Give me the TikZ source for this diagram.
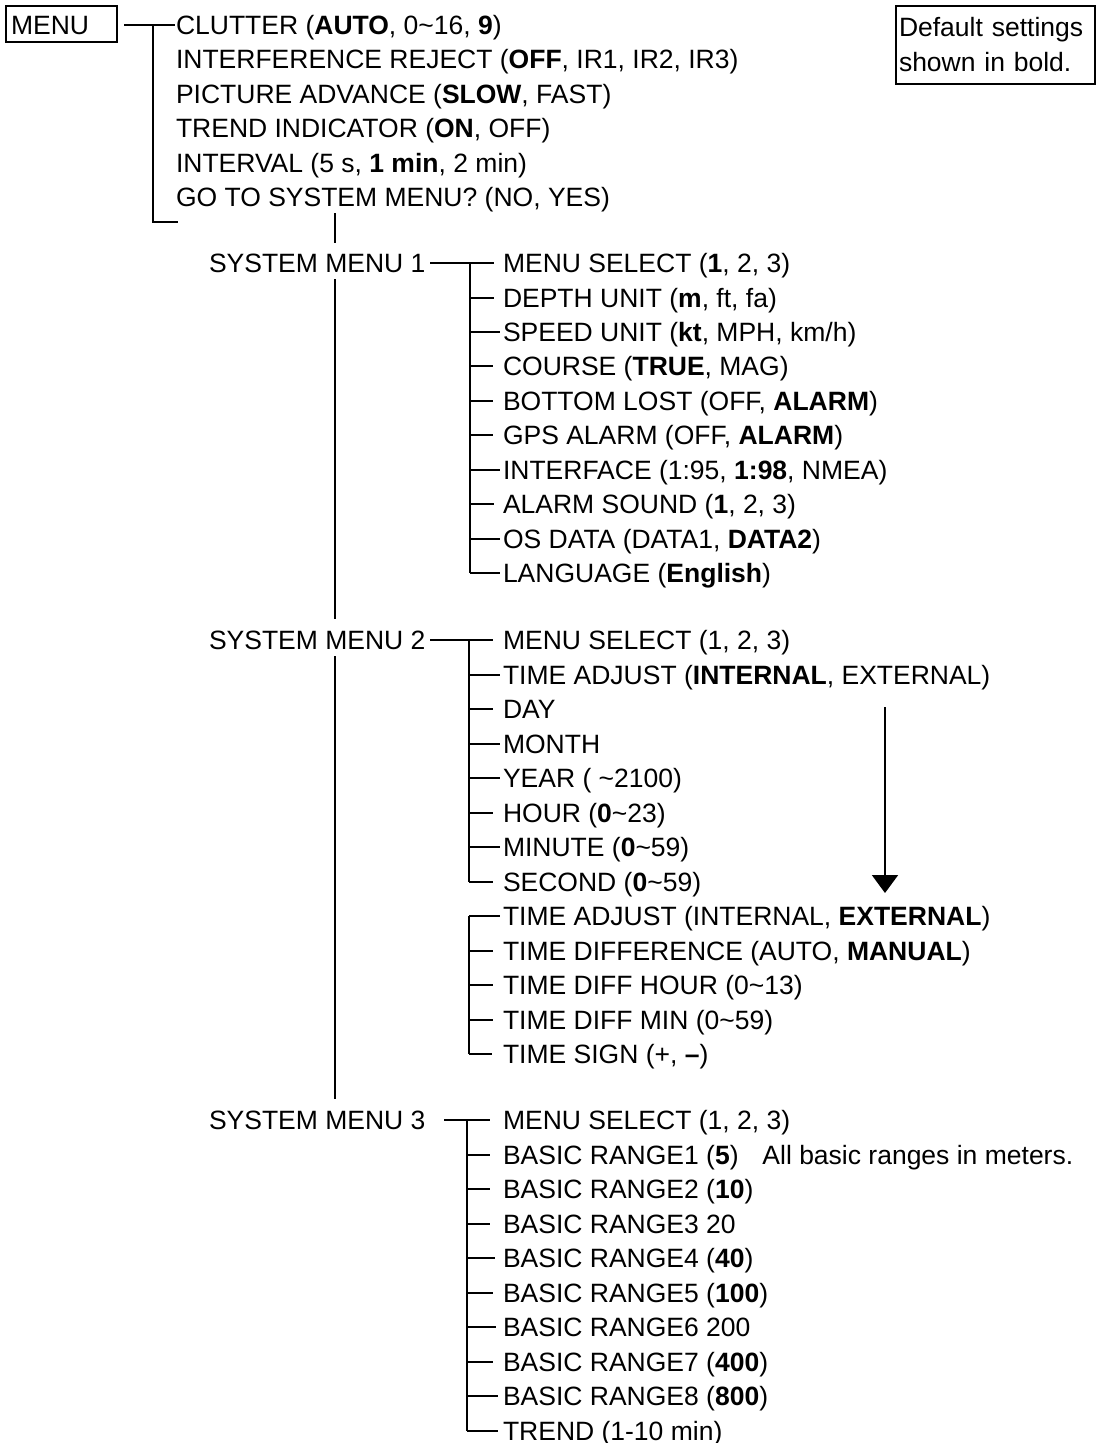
\documentclass[tikz,border=0pt]{standalone}
\usepackage{fontspec}
\setmainfont{Liberation Sans}
\usetikzlibrary{arrows.meta}
\newcommand{\fs}{\fontsize{26.5}{35}\selectfont}
\newcommand{\tl}{\textasciitilde}
% item node + tick from bar coordinate: name, bar coord, y, gap, text
\newcommand{\branchitem}[5]{%
  \node[itm] (#1) at (502,#3) {#5};
  \draw (#2 |- #1.west) -- ([xshift=-#4pt]#1.west);}
\begin{document}
\begin{tikzpicture}[x=1pt,y=-1pt,line width=2pt,
  itm/.style={anchor=west,inner sep=0pt,text height=19pt,text depth=0pt,font=\fs},
  boxnode/.style={draw,anchor=north west,font=\fs,align=left}]
\useasboundingbox (0,0) rectangle (1096,1443);

% ---------- MENU ----------
\node[boxnode,inner xsep=5pt,inner ysep=7.5pt,text width=101pt,text height=21pt,text depth=0pt] (menu) at (5,5) {MENU};

\node[itm] (m1) at (175,25)    {CLUTTER (\textbf{AUTO}, 0\tl16, \textbf{9})};
\node[itm] (m2) at (175,59.4)  {INTERFERENCE REJECT (\textbf{OFF}, IR1, IR2, IR3)};
\node[itm] (m3) at (175,93.8)  {PICTURE ADVANCE (\textbf{SLOW}, FAST)};
\node[itm] (m4) at (175,128.2) {TREND INDICATOR (\textbf{ON}, OFF)};
\node[itm] (m5) at (175,162.6) {INTERVAL (5 s, \textbf{1 min}, 2 min)};
\node[itm] (m6) at (175,197)   {GO TO SYSTEM MENU? (NO, YES)};

\coordinate (mbar) at (153,0);
\coordinate (mbot) at (153,222);
\draw ([xshift=6pt]menu.east |- m1.west) -- (m1.west);
\draw (mbar |- m1.west) -- (mbot) -- ([xshift=3pt]m6.west |- mbot);

% ---------- default note ----------
\node[boxnode,inner xsep=3pt,inner ysep=0pt,text width=193pt,minimum height=78pt] (note) at (895,5) {Default settings\\shown in bold.};

% ---------- system menu titles ----------
\node[itm] (s1) at (208,263)  {SYSTEM MENU 1};
\node[itm] (s2) at (208,640)  {SYSTEM MENU 2};
\node[itm] (s3) at (208,1120) {SYSTEM MENU 3};

\coordinate (main) at (335,0);
\draw (main |- 0,213) -- (main |- 0,243);
\draw (main |- 0,279) -- (main |- 0,619);
\draw (main |- 0,656) -- (main |- 0,1099);

% ---------- SYSTEM MENU 1 ----------
\coordinate (b1) at (470,0);
\branchitem{a1}{b1}{263}{8}{MENU SELECT (\textbf{1}, 2, 3)}
\branchitem{a2}{b1}{297.5}{8}{DEPTH UNIT (\textbf{m}, ft, fa)}
\branchitem{a3}{b1}{331.9}{2}{SPEED UNIT (\textbf{kt}, MPH, km/h)}
\branchitem{a4}{b1}{366.4}{9}{COURSE (\textbf{TRUE}, MAG)}
\branchitem{a5}{b1}{400.8}{9}{BOTTOM LOST (OFF, \textbf{ALARM})}
\branchitem{a6}{b1}{435.3}{9}{GPS ALARM (OFF, \textbf{ALARM})}
\branchitem{a7}{b1}{469.7}{2}{INTERFACE (1:95, \textbf{1:98}, NMEA)}
\branchitem{a8}{b1}{504.2}{8}{ALARM SOUND (\textbf{1}, 2, 3)}
\branchitem{a9}{b1}{538.6}{2}{OS DATA (DATA1, \textbf{DATA2})}
\branchitem{a10}{b1}{573}{2}{LANGUAGE (\textbf{English})}
\draw ([xshift=4pt]s1.east) -- (b1 |- a1.west);
\draw (b1 |- a1.west) -- (b1 |- a10.west);

% ---------- SYSTEM MENU 2 ----------
\coordinate (b2) at (469,0);
\branchitem{c1}{b2}{640}{9}{MENU SELECT (1, 2, 3)}
\branchitem{c2}{b2}{674.5}{2}{TIME ADJUST (\textbf{INTERNAL}, EXTERNAL)}
\branchitem{c3}{b2}{709}{9}{DAY}
\branchitem{c4}{b2}{743.5}{2}{MONTH}
\branchitem{c5}{b2}{778}{2}{YEAR ( \tl2100)}
\branchitem{c6}{b2}{812.5}{9}{HOUR (\textbf{0}\tl23)}
\branchitem{c7}{b2}{847}{2}{MINUTE (\textbf{0}\tl59)}
\branchitem{c8}{b2}{881.5}{9}{SECOND (\textbf{0}\tl59)}
\branchitem{c9}{b2}{916}{2}{TIME ADJUST (INTERNAL, \textbf{EXTERNAL})}
\branchitem{c10}{b2}{950.5}{9}{TIME DIFFERENCE (AUTO, \textbf{MANUAL})}
\branchitem{c11}{b2}{985}{9}{TIME DIFF HOUR (0\tl13)}
\branchitem{c12}{b2}{1019.5}{9}{TIME DIFF MIN (0\tl59)}
\branchitem{c13}{b2}{1054}{10}{TIME SIGN (+, \textbf{--})}
\draw ([xshift=4pt]s2.east) -- (b2 |- c1.west);
\draw (b2 |- c1.west) -- (b2 |- c8.west);
\draw (b2 |- c9.west) -- (b2 |- c13.west);

\coordinate (arrTop) at (885,707);
\coordinate (arrTip) at (885,893);
\draw[-{Triangle[width=26pt,length=18pt]}] (arrTop) -- (arrTip);

% ---------- SYSTEM MENU 3 ----------
\coordinate (b3) at (467,0);
\branchitem{d1}{b3}{1120}{12}{MENU SELECT (1, 2, 3)}
\branchitem{d2}{b3}{1154.5}{12}{BASIC RANGE1 (\textbf{5})\hspace{0.9em}All basic ranges in meters.}
\branchitem{d3}{b3}{1189}{12}{BASIC RANGE2 (\textbf{10})}
\branchitem{d4}{b3}{1223.5}{12}{BASIC RANGE3 20}
\branchitem{d5}{b3}{1258}{7}{BASIC RANGE4 (\textbf{40})}
\branchitem{d6}{b3}{1292.5}{9}{BASIC RANGE5 (\textbf{100})}
\branchitem{d7}{b3}{1327}{6}{BASIC RANGE6 200}
\branchitem{d8}{b3}{1361.5}{9}{BASIC RANGE7 (\textbf{400})}
\branchitem{d9}{b3}{1396}{4}{BASIC RANGE8 (\textbf{800})}
\branchitem{d10}{b3}{1430.5}{4}{TREND (1-10 min)}
\draw ([xshift=18pt]s3.east) -- (b3 |- d1.west);
\draw (b3 |- d1.west) -- (b3 |- d10.west);
\end{tikzpicture}
\end{document}
